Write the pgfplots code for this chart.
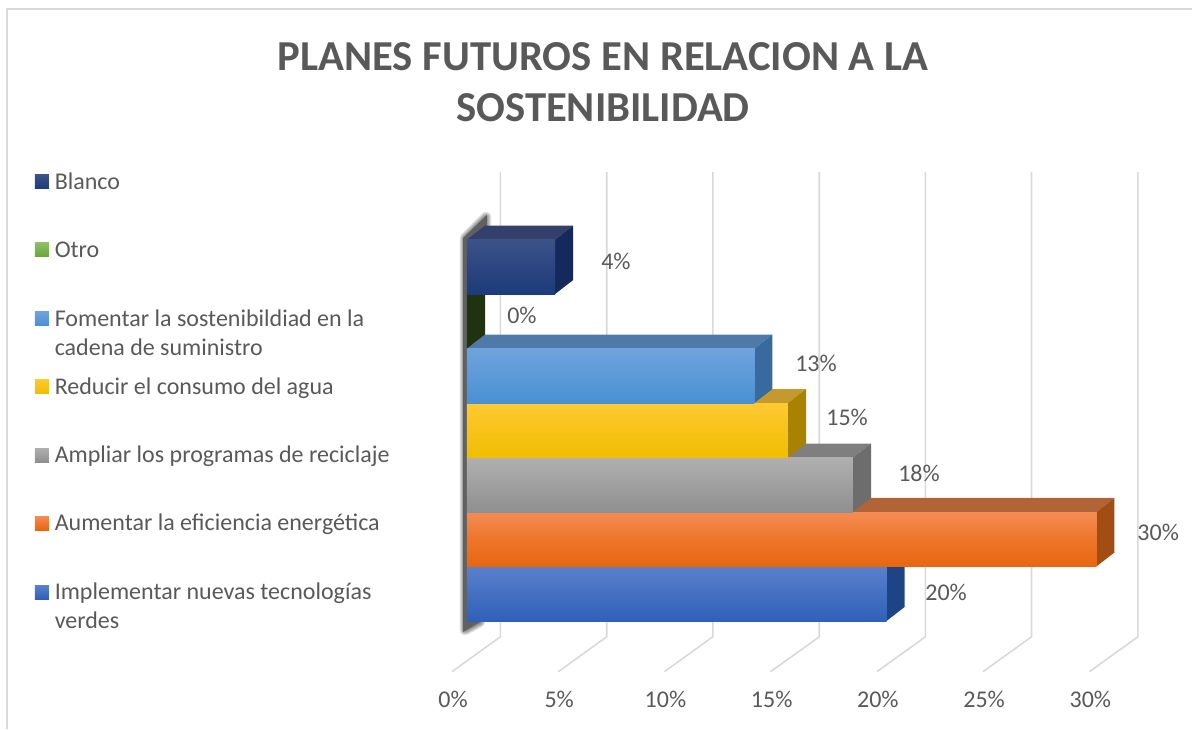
\documentclass[border=0pt]{standalone}
\usepackage{fontspec}
\setmainfont{Carlito}
\usepackage{pgfplots}
\pgfplotsset{compat=1.18}

\definecolor{txt}{HTML}{595959}
\definecolor{rejilla}{HTML}{D9D9D9}
% colores: a arriba, b abajo, t cara superior, s cara lateral
\definecolor{blancoa}{HTML}{3C5288}\definecolor{blancob}{HTML}{1D3A7A}\definecolor{blancot}{HTML}{33406B}\definecolor{blancos}{HTML}{14295C}
\definecolor{otroa}{HTML}{8CBF66}\definecolor{otrob}{HTML}{66A636}\definecolor{otros}{HTML}{1F3310}
\definecolor{fomenta}{HTML}{6FA3DC}\definecolor{fomentb}{HTML}{4A90D4}\definecolor{fomentt}{HTML}{4F79A8}\definecolor{foments}{HTML}{396A9F}
\definecolor{reducira}{HTML}{FFC933}\definecolor{reducirb}{HTML}{F0BD00}\definecolor{reducirt}{HTML}{C49A2E}\definecolor{reducirs}{HTML}{A98200}
\definecolor{ampliara}{HTML}{B0B0B0}\definecolor{ampliarb}{HTML}{8F8F8F}\definecolor{ampliart}{HTML}{7F7F7F}\definecolor{ampliars}{HTML}{6D6D6D}
\definecolor{aumentara}{HTML}{F58C55}\definecolor{aumentarb}{HTML}{E8660F}\definecolor{aumentart}{HTML}{B36436}\definecolor{aumentars}{HTML}{A14D14}
\definecolor{impla}{HTML}{5A80CC}\definecolor{implb}{HTML}{2F60B8}\definecolor{implt}{HTML}{3F5F9F}\definecolor{impls}{HTML}{1F4486}

% leyenda: muestra y texto, en pixeles de la imagen
\newcommand{\muestra}[2]{\shade[top color=#2a,bottom color=#2b] (35,#1-14) rectangle (49,#1);}
\newcommand{\etq}[2]{\node[anchor=base west,inner sep=0pt,text=txt,font=\fontsize{18}{20}\selectfont] at (54.5,#1+0.8) {#2};}

\begin{document}
\begin{tikzpicture}
\begin{scope}[x=0.75pt,y=-0.75pt,shift={(-467,-621)}]
\path[use as bounding box] (0,0) rectangle (1192,729);
\draw[rejilla,line width=1.4pt] (7,729) -- (7,9) -- (1192,9);
\node[align=center,text=txt,font=\fontsize{32}{38.25}\selectfont\bfseries,inner sep=0pt] at (603,82)
  {PLANES FUTUROS EN RELACION A LA\\SOSTENIBILIDAD};
% sombra del eje, difuminada con trazos superpuestos
\foreach \w in {1,2,...,8}
  \draw[black,opacity=.08,line width=\w pt,line join=round]
    (465,238) -- (486,217) -- (486,226) -- (466,240) -- (466,622) -- (480,622) -- (465,630) -- cycle;
\fill[black!62] (463,238) -- (487,215) -- (487,226) -- (467,240) -- (467,622) -- (480,622) -- (463,632) -- cycle;
\muestra{189}{blanco}\etq{189}{Blanco}
\muestra{257}{otro}\etq{257}{Otro}
\muestra{325.5}{foment}\etq{325.5}{Fomentar la sostenibildiad en la}\etq{355}{cadena de suministro}
\muestra{393.5}{reducir}\etq{393.5}{Reducir el consumo del agua}
\muestra{462}{ampliar}\etq{462}{Ampliar los programas de reciclaje}
\muestra{530}{aumentar}\etq{530}{Aumentar la eficiencia energética}
\muestra{599}{impl}\etq{599}{Implementar nuevas tecnologías}\etq{628}{verdes}
\end{scope}

\begin{axis}[
  scale only axis, width=472pt, height=286.125pt,
  xmin=0, xmax=30, ymin=-0.5, ymax=6.5,
  clip=false, axis line style={draw=none},
  xtick={0,5,...,30}, xticklabels={0\%,5\%,10\%,15\%,20\%,25\%,30\%},
  ytick=\empty, major tick length=0pt, xtick style={draw=none},
  /pgf/number format/assume math mode=true,
  xticklabel style={text=txt,font=\fontsize{18}{20}\selectfont,yshift=-49pt,xshift={(-10.5+\ticknum*1.0)*1pt}},
  rej/.style={sharp plot,rejilla,line width=1.2pt,forget plot},
  cara/.style={sharp plot,draw=none,fill=#1,forget plot},
  frente/.style={xbar,bar shift=0pt,bar width=1,draw=none,forget plot,top color=#1a,bottom color=#1b}
]
% rejilla del fondo y suelo
\addplot[rej] coordinates {(1.59,7.74)(1.59,-0.79)(-0.72,-1.43)};
\addplot[rej] coordinates {(6.66,7.74)(6.66,-0.79)(4.35,-1.43)};
\addplot[rej] coordinates {(11.72,7.74)(11.72,-0.79)(9.41,-1.43)};
\addplot[rej] coordinates {(16.79,7.74)(16.79,-0.79)(14.47,-1.43)};
\addplot[rej] coordinates {(21.85,7.74)(21.85,-0.79)(19.54,-1.43)};
\addplot[rej] coordinates {(26.91,7.74)(26.91,-0.79)(24.6,-1.43)};
\addplot[rej] coordinates {(31.98,7.74)(31.98,-0.79)(29.67,-1.43)};

% de abajo arriba: cada barra tapa la cara superior de la anterior
% Implementar
\addplot[cara=implt] coordinates {(0,0.5)(0.86,0.757)(20.86,0.757)(20,0.5)} -- cycle;
\addplot[cara=impls] coordinates {(20,0.5)(20.86,0.757)(20.86,-0.243)(20,-0.5)} -- cycle;
\addplot[frente=impl] coordinates {(20,0)};
% Aumentar
\addplot[cara=aumentart] coordinates {(0,1.5)(0.86,1.757)(30.86,1.757)(30,1.5)} -- cycle;
\addplot[cara=aumentars] coordinates {(30,1.5)(30.86,1.757)(30.86,0.757)(30,0.5)} -- cycle;
\addplot[frente=aumentar,middle color=aumentara!40!aumentarb] coordinates {(30,1)};
% Ampliar
\addplot[cara=ampliart] coordinates {(0,2.5)(0.86,2.757)(19.26,2.757)(18.4,2.5)} -- cycle;
\addplot[cara=ampliars] coordinates {(18.4,2.5)(19.26,2.757)(19.26,1.757)(18.4,1.5)} -- cycle;
\addplot[frente=ampliar] coordinates {(18.4,2)};
% Reducir
\addplot[cara=reducirt] coordinates {(0,3.5)(0.86,3.757)(16.16,3.757)(15.3,3.5)} -- cycle;
\addplot[cara=reducirs] coordinates {(15.3,3.5)(16.16,3.757)(16.16,2.757)(15.3,2.5)} -- cycle;
\addplot[frente=reducir] coordinates {(15.3,3)};
% Fomentar
\addplot[cara=fomentt] coordinates {(0,4.5)(0.86,4.757)(14.56,4.757)(13.7,4.5)} -- cycle;
\addplot[cara=foments] coordinates {(13.7,4.5)(14.56,4.757)(14.56,3.757)(13.7,3.5)} -- cycle;
\addplot[frente=foment] coordinates {(13.7,4)};
% Otro
\addplot[cara=otros] coordinates {(0,5.5)(0.86,5.757)(0.86,4.757)(0,4.5)} -- cycle;
\addplot[frente=otro] coordinates {(0,5)};
% Blanco
\addplot[cara=blancot] coordinates {(0,6.5)(0.86,6.757)(5.06,6.757)(4.2,6.5)} -- cycle;
\addplot[cara=blancos] coordinates {(4.2,6.5)(5.06,6.757)(5.06,5.757)(4.2,5.5)} -- cycle;
\addplot[frente=blanco] coordinates {(4.2,6)};

% etiquetas de datos
\addplot[only marks,mark=none,forget plot,
  point meta=explicit,
  nodes near coords={\pgfmathprintnumber{\pgfplotspointmeta}\%},
  nodes near coords align={center},
  every node near coord/.append style={text=txt,font=\fontsize{18}{20}\selectfont,inner sep=0pt}]
  table[x=x,y=y,meta=v] {
x y v
7.1 6.1 4
2.62 5.11 0
16.64 4.23 13
18.12 3.24 15
21.55 2.2 18
32.95 1.13 30
22.84 0.03 20
};
\end{axis}
\end{tikzpicture}
\end{document}
